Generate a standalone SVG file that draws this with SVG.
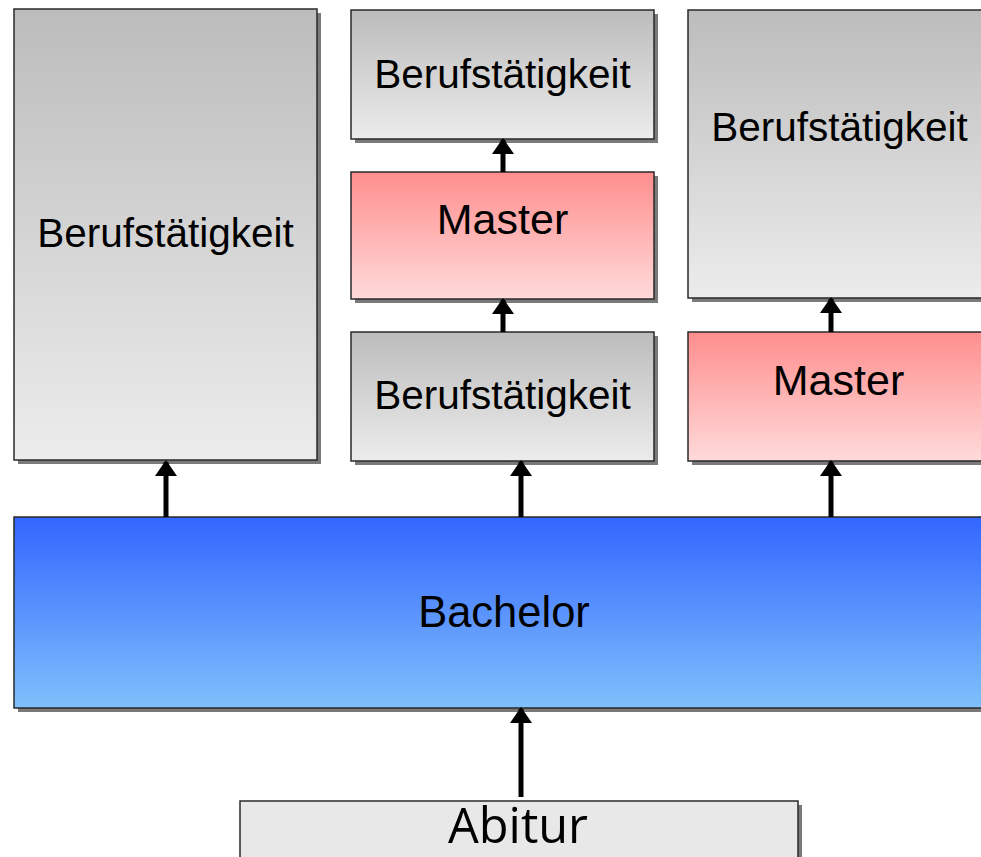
<svg xmlns="http://www.w3.org/2000/svg" width="981" height="857" viewBox="0 0 981 857">
<defs>
<linearGradient id="gGray" x1="0" y1="0" x2="0" y2="1"><stop offset="0" stop-color="#bcbcbc"/><stop offset="1" stop-color="#ececec"/></linearGradient>
<linearGradient id="gRed" x1="0" y1="0" x2="0" y2="1"><stop offset="0" stop-color="#ff8e8e"/><stop offset="1" stop-color="#ffdada"/></linearGradient>
<linearGradient id="gBlue" x1="0" y1="0" x2="0" y2="1"><stop offset="0" stop-color="#3366ff"/><stop offset="1" stop-color="#80c0fc"/></linearGradient>
<marker id="ah" markerUnits="userSpaceOnUse" markerWidth="16" markerHeight="22" refX="14" refY="11" orient="auto" viewBox="0 0 16 22">
<path d="M0,0 L16,11 L0,22 Z" fill="#000"/>
</marker>
</defs>
<style>
.sh{fill:#7a7a7a;}
.box{stroke:#2a2a2a;stroke-width:1.5;}
.gray{fill:url(#gGray);}
.red{fill:url(#gRed);}
.blue{fill:url(#gBlue);}
.lbl{font-family:"Liberation Sans",Arial,sans-serif;fill:#000;text-anchor:middle;}
.arr{stroke:#000;stroke-width:5;fill:none;}
</style>
<rect width="981" height="857" fill="#fff"/>

<g id="berufs-left">
<rect class="sh" x="18" y="13" width="303" height="451"/>
<rect class="box gray" x="14" y="9" width="303" height="451"/>
<text class="lbl" x="165.5" y="247" font-size="40.5">Berufstätigkeit</text>
</g>

<g id="berufs-mid-top">
<rect class="sh" x="355" y="14" width="303" height="129"/>
<rect class="box gray" x="351" y="10" width="303" height="129"/>
<text class="lbl" x="502.5" y="88" font-size="40.5">Berufstätigkeit</text>
</g>

<g id="master-mid">
<rect class="sh" x="355" y="176" width="303" height="127"/>
<rect class="box red" x="351" y="172" width="303" height="127"/>
<text class="lbl" x="502.5" y="234" font-size="43">Master</text>
</g>

<g id="berufs-mid-bottom">
<rect class="sh" x="355" y="336" width="303" height="129"/>
<rect class="box gray" x="351" y="332" width="303" height="129"/>
<text class="lbl" x="502.5" y="409" font-size="40.5">Berufstätigkeit</text>
</g>

<g id="berufs-right">
<rect class="sh" x="692" y="14" width="303" height="288"/>
<rect class="box gray" x="688" y="10" width="303" height="288"/>
<text class="lbl" x="839.5" y="141" font-size="40.5">Berufstätigkeit</text>
</g>

<g id="master-right">
<rect class="sh" x="692" y="336" width="303" height="129"/>
<rect class="box red" x="688" y="332" width="303" height="129"/>
<text class="lbl" x="838.5" y="395" font-size="43">Master</text>
</g>

<g id="bachelor">
<rect class="sh" x="18" y="521" width="980" height="191"/>
<rect class="box blue" x="14" y="517" width="980" height="191"/>
<text class="lbl" x="504" y="627" font-size="43.5">Bachelor</text>
</g>

<g id="abitur">
<rect class="sh" x="244" y="805" width="558" height="60"/>
<rect class="box" fill="#e8e8e8" x="240" y="801" width="558" height="60"/>
<text x="518" y="843" font-family="'Open Sans','Noto Sans',sans-serif" font-size="49" text-anchor="middle" textLength="140" lengthAdjust="spacingAndGlyphs" fill="#000">Abitur</text>
</g>

<g id="connectors">
<line class="arr" x1="166" y1="517" x2="166" y2="462" marker-end="url(#ah)"/>
<line class="arr" x1="521" y1="517" x2="521" y2="462" marker-end="url(#ah)"/>
<line class="arr" x1="831" y1="517" x2="831" y2="462" marker-end="url(#ah)"/>
<line class="arr" x1="503" y1="332" x2="503" y2="300" marker-end="url(#ah)"/>
<line class="arr" x1="503" y1="172" x2="503" y2="140" marker-end="url(#ah)"/>
<line class="arr" x1="831" y1="332" x2="831" y2="299" marker-end="url(#ah)"/>
<line class="arr" x1="521" y1="797" x2="521" y2="709" marker-end="url(#ah)"/>
</g>
</svg>
